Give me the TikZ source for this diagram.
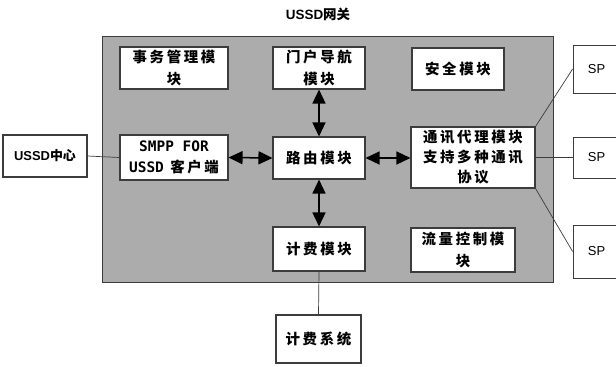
\documentclass[tikz,border=0pt]{standalone}
\usepackage{fontspec}
\setmainfont{Liberation Sans}
\newfontfamily\cjk{Noto Sans CJK SC}[LetterSpace=18]
\newfontfamily\cjktight{Noto Sans CJK SC}
\newfontfamily\mono{DejaVu Sans Mono}
\usetikzlibrary{arrows.meta}
\definecolor{gw}{RGB}{172,172,172}
\definecolor{ed}{RGB}{60,60,60}
\begin{document}
\begin{tikzpicture}[x=1bp,y=-1bp,
  box/.style={draw=ed, line width=1.1bp, fill=white, inner sep=0pt, align=center,
    font=\fontsize{14.5}{22}\selectfont\cjk\bfseries},
  spbox/.style={draw=ed, line width=0.8bp, fill=white, inner sep=0pt,
    minimum width=47bp, font=\fontsize{13}{16}\selectfont},
  thinline/.style={draw=ed, line width=0.7bp},
  dbl/.style={line width=1.5bp, draw=black,
    {Triangle[length=14bp,width=13bp]}-{Triangle[length=14bp,width=13bp]}}]
\useasboundingbox (0,0) rectangle (616,366);
\clip (0,0) rectangle (616,366);
\fill[white] (0,0) rectangle (616,366);
% gateway
\node[draw=ed, line width=1bp, fill=gw, minimum width=450bp, minimum height=246bp, inner sep=0pt] (gw) at (328,159) {};
\node[font=\fontsize{13.5}{16}\selectfont\bfseries] (title) at (318,14) {USSD{\cjktight 网关}};
% inner modules
\node[box, minimum width=108bp, minimum height=42bp] (shiwu) at (174,68) {事务管理模\\块};
\node[box, minimum width=92bp, minimum height=42bp] (menhu) at (319,68) {门户导航\\模块};
\node[box, minimum width=92bp, minimum height=42bp] (anquan) at (458,69) {安全模块};
\node[box, minimum width=108bp, minimum height=45bp, font=\fontsize{14.5}{21}\selectfont\bfseries] (smpp) at (174,157.5) {{\mono SMPP FOR}\\{\mono USSD}\ \,{\cjk 客户端}};
\node[box, minimum width=92bp, minimum height=42bp] (luyou) at (319,158) {路由模块};
\node[box, minimum width=124bp, minimum height=61bp, font=\fontsize{14.5}{20}\selectfont\cjk\bfseries] (tongxun) at (473,157.5) {通讯代理模块\\支持多种通讯\\协议};
\node[box, minimum width=92bp, minimum height=44bp] (jifei) at (319,249) {计费模块};
\node[box, minimum width=104bp, minimum height=44bp] (liuliang) at (463,250) {流量控制模\\块};
% outer
\node[box, minimum width=84bp, minimum height=42bp, font=\fontsize{13}{16}\selectfont\bfseries] (ussd) at (45,156) {USSD{\cjktight 中心}};
\node[box, minimum width=85bp, minimum height=48bp] (jfxt) at (318.5,339) {计费系统};
\node[spbox, minimum height=48bp] (sp1) at (596.5,69) {SP};
\node[spbox, minimum height=41bp] (sp2) at (596.5,157.5) {SP};
\node[spbox, minimum height=53bp] (sp3) at (596.5,251.5) {SP};
% connectors
\draw[thinline] (ussd.east) -- (smpp.west);
\draw[thinline] (jifei.south) -- (jfxt.north);
\draw[thinline] (tongxun.north east) -- (sp1.west);
\draw[thinline] (tongxun.east) -- (sp2.west);
\draw[thinline] (tongxun.south east) -- (sp3.west);
\draw[dbl] (smpp.east) -- (luyou.west);
\draw[dbl] (luyou.east) -- (tongxun.west |- luyou.east);
\draw[dbl] (menhu.south) -- (luyou.north);
\draw[dbl] (luyou.south) -- (jifei.north);
\end{tikzpicture}
\end{document}
